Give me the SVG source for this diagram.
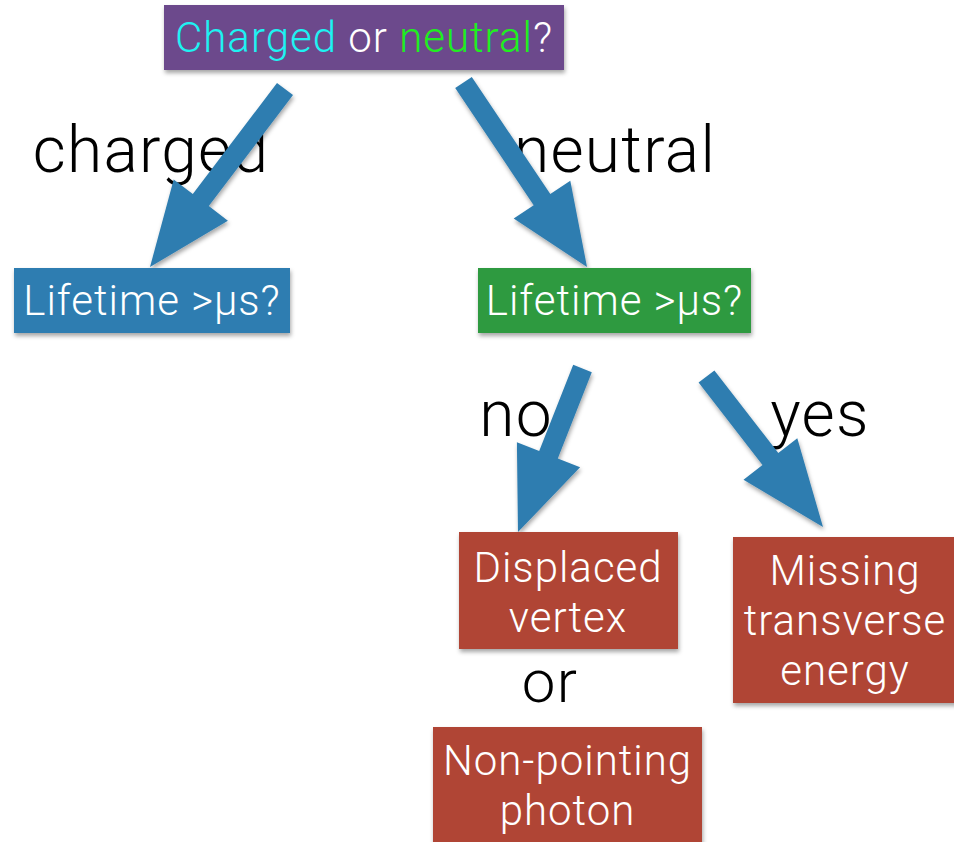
<svg xmlns="http://www.w3.org/2000/svg" width="954" height="842" viewBox="0 0 954 842">
<defs>
<filter id="sh" x="-10%" y="-10%" width="130%" height="140%">
<feDropShadow dx="1" dy="3" stdDeviation="2" flood-color="#000" flood-opacity="0.35"/>
</filter>
</defs>
<style>
.box{filter:url(#sh)}
.bt{font-family:Roboto,"Liberation Sans",sans-serif;font-weight:300;font-size:42px;letter-spacing:1px;fill:#fff;text-anchor:middle}
.lbl{font-family:Roboto,"Liberation Sans",sans-serif;font-weight:300;font-size:64px;letter-spacing:1.3px;fill:#000;text-anchor:middle}
.arr{fill:#2e7db0;filter:url(#sh)}
</style>
<rect width="954" height="842" fill="#fff"/>
<g id="labels">
<text class="lbl" x="151" y="172">charged</text>
<text class="lbl" x="615" y="172">neutral</text>
<text class="lbl" x="516" y="436">no</text>
<text class="lbl" x="820" y="436">yes</text>
<text class="lbl" x="550" y="702" style="font-size:60px">or</text>
</g>
<g id="connectors">
<polygon class="arr" points="293,95.1 208.8,206.1 227.9,220.7 150,267 173.7,179.5 192.8,194.1 277,83"/>
<polygon class="arr" points="455.2,88.1 533.7,205.3 513.7,218.6 587,267 570.3,180.8 550.3,194.1 471.8,76.9"/>
<polygon class="arr" points="591.8,372.2 557.8,458.5 580.1,467.3 518,532 516.9,442.3 539.2,451.1 573.2,364.8"/>
<polygon class="arr" points="698.6,382.6 762.5,465.1 743.5,479.8 823,527 797.3,438.2 778.3,452.9 714.4,370.4"/>
</g>
<g id="root">
<rect class="box" x="164" y="5" width="400" height="65" fill="#6c4a8c"/>
<text class="bt" x="364" y="52"><tspan fill="#1ef2f2">Charged</tspan> or <tspan fill="#1fef1f">neutral</tspan>?</text>
</g>
<g id="charged-lifetime">
<rect class="box" x="14" y="268" width="276" height="65" fill="#2f7db1"/>
<text class="bt" x="152" y="315">Lifetime &gt;μs?</text>
</g>
<g id="neutral-lifetime">
<rect class="box" x="478" y="268" width="273" height="65" fill="#2f9a3f"/>
<text class="bt" x="614.5" y="315">Lifetime &gt;μs?</text>
</g>
<g id="displaced">
<rect class="box" x="459" y="532" width="219" height="117" fill="#b04535"/>
<text class="bt" x="568" y="582">Displaced</text>
<text class="bt" x="568" y="632">vertex</text>
</g>
<g id="missing">
<rect class="box" x="733" y="537" width="227" height="166" fill="#b04535"/>
<text class="bt" x="845" y="585">Missing</text>
<text class="bt" x="845" y="635">transverse</text>
<text class="bt" x="845" y="685">energy</text>
</g>
<g id="nonpointing">
<rect class="box" x="433" y="727" width="269" height="125" fill="#b04535"/>
<text class="bt" x="567.5" y="775">Non-pointing</text>
<text class="bt" x="567.5" y="825">photon</text>
</g>
</svg>
